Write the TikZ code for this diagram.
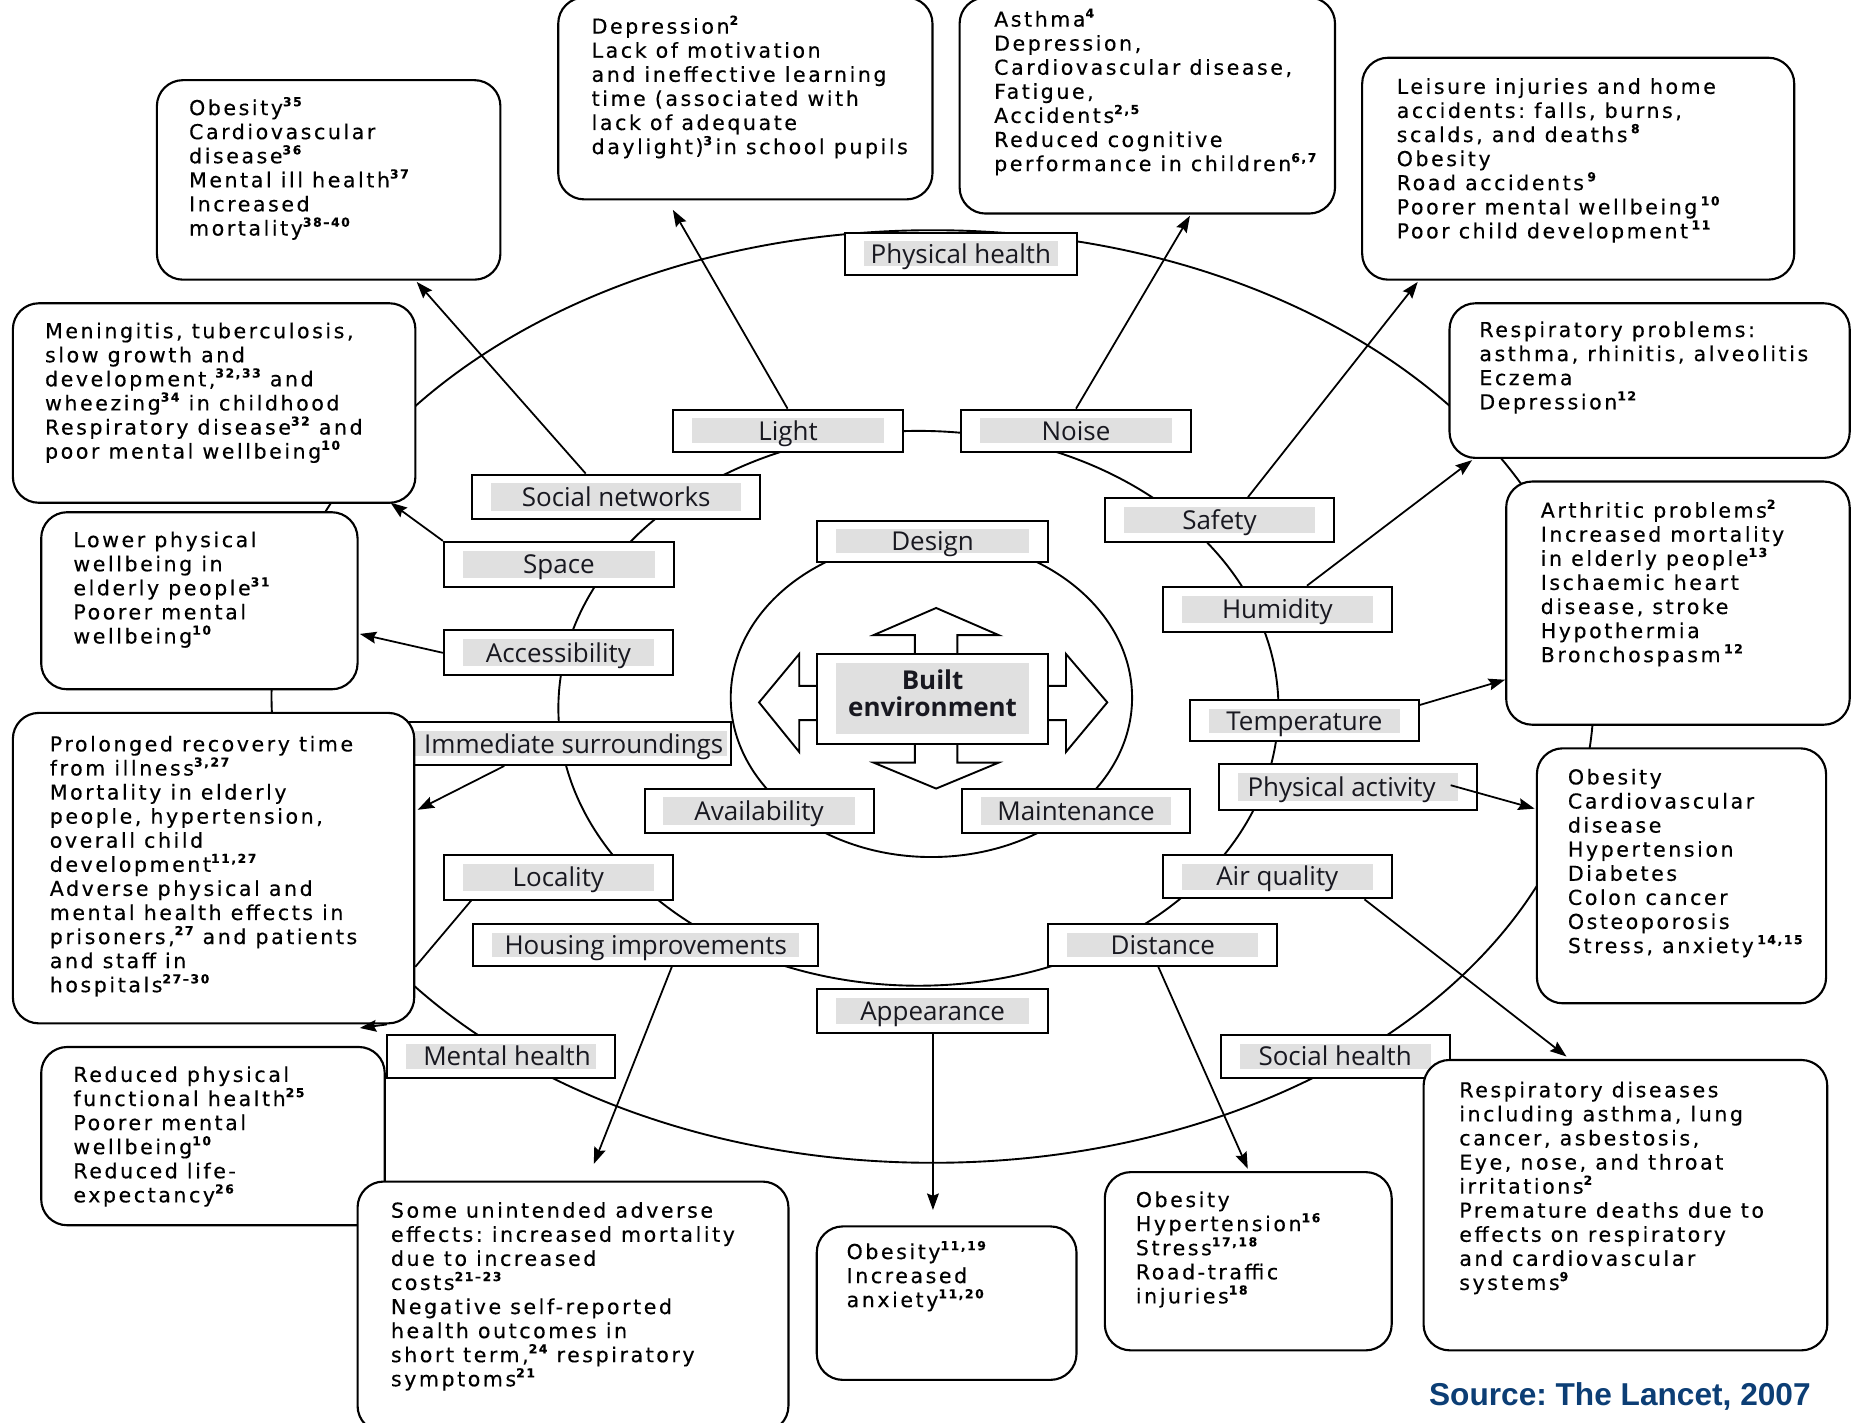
\documentclass[tikz,border=0pt]{standalone}
\usepackage{fontspec}
\setmainfont{DejaVu Sans}
\newfontfamily\boxfont[LetterSpace=12.5, FakeBold=0.35]{DejaVu Sans}
\newfontfamily\labfont{Open Sans}
\newfontfamily\srcfont{Liberation Sans}
\usetikzlibrary{arrows.meta}
\definecolor{bandgray}{RGB}{224,224,224}
\definecolor{labtext}{RGB}{24,24,32}
\definecolor{srcblue}{RGB}{12,62,117}
\newcommand\supref[1]{\raisebox{7.5pt}{\fontsize{10.5pt}{10.5pt}\selectfont\bfseries #1}}
\newcommand\bxstrut{\rule{0pt}{16pt}}
\frenchspacing
\begin{document}
\begin{tikzpicture}[x=1pt,y=-1pt,
  bandx/.initial=16, bandy/.initial=7.5,
  ring/.style={line width=1.6pt},
  obox/.style={draw, line width=1.8pt, rounded corners=22pt, fill=white, inner sep=0pt, anchor=north west},
  otext/.style={font=\boxfont\fontsize{17.4pt}{20.4pt}\selectfont, align=left, inner sep=0pt, anchor=north west},
  labframe/.style={draw, line width=1.7pt, fill=white, inner sep=0pt, minimum width=194pt, minimum height=37pt,
     font=\labfont\fontsize{22pt}{24pt}\selectfont, text=labtext,
     path picture={\fill[bandgray] ([xshift=\pgfkeysvalueof{/tikz/bandx}pt, yshift=-\pgfkeysvalueof{/tikz/bandy}pt]path picture bounding box.north west) rectangle ([xshift=-\pgfkeysvalueof{/tikz/bandx}pt, yshift=\pgfkeysvalueof{/tikz/bandy}pt]path picture bounding box.south east);}},
  lab/.style={labframe, text height=19pt, text depth=3pt},
  arr/.style={line width=1.5pt, -{Stealth[length=14pt, width=10pt, inset=2pt]}},
  conn/.style={line width=1.5pt},
  cross/.style={draw, line width=1.6pt, fill=white, line join=miter}
]
\useasboundingbox (0,0) rectangle (1568,1205);

% rings
\draw[ring] (790,590) ellipse [x radius=560pt, y radius=395pt];
\draw[ring] (778,600) ellipse [x radius=305pt, y radius=235pt];
\draw[ring] (789,591) ellipse [x radius=170pt, y radius=135pt];

% cross arrows around the centre
\draw[cross] (775,556) -- (775,538) -- (740,538) -- (793,515) -- (846,538) -- (811,538) -- (811,556);
\draw[cross] (775,628) -- (775,646) -- (740,646) -- (793,668) -- (846,646) -- (811,646) -- (811,628);
\draw[cross] (694,581) -- (677,581) -- (677,554) -- (643,595) -- (677,637) -- (677,610) -- (694,610);
\draw[cross] (886,581) -- (903,581) -- (903,554) -- (938,595) -- (903,637) -- (903,610) -- (886,610);

% label boxes
\node[lab, minimum width=196pt, minimum height=36pt] (physical) at (814,215) {Physical health};
\node[lab, minimum width=195pt, minimum height=36pt] (light) at (667.5,365) {Light};
\node[lab, minimum width=195pt, minimum height=36pt] (noise) at (911.5,365) {Noise};
\node[lab, minimum width=244pt, minimum height=38pt] (socnet) at (522,421) {Social networks};
\node[lab, minimum width=195pt, minimum height=38pt] (space) at (473.5,478) {Space};
\node[lab, minimum width=196pt, minimum height=35pt] (design) at (790,458.5) {Design};
\node[lab, minimum height=37pt] (safety) at (1033,440.5) {Safety};
\node[lab, minimum height=38pt] (humidity) at (1082,516) {Humidity};
\node[lab, minimum height=38pt] (access) at (473,553) {Accessibility};
\node[lab, minimum width=281pt, minimum height=36pt, bandx=3] (immed) at (478.5,630) {\hspace*{15pt}Immediate surroundings};
\node[lab, minimum height=35pt] (temp) at (1105,610.5) {Temperature};
\node[lab, minimum width=218pt, minimum height=39pt] (physact) at (1142,666.5) {Physical activity\hspace*{11pt}};
\node[lab, minimum height=38pt] (avail) at (643,687) {Availability};
\node[lab, minimum width=193pt, minimum height=38pt] (maint) at (911.5,687) {Maintenance};
\node[lab, minimum height=38pt] (locality) at (473,743) {Locality};
\node[lab, minimum height=37pt] (airq) at (1082,742.5) {Air quality};
\node[lab, minimum width=292pt, minimum height=35pt] (housing) at (547,800.5) {Housing improvements};
\node[lab, minimum height=35pt] (distance) at (985,800.5) {Distance};
\node[lab, minimum width=196pt, minimum height=37pt] (appear) at (790,856.5) {Appearance};
\node[lab, minimum width=193pt, minimum height=36pt] (mental) at (424.5,895) {\hspace*{10pt}Mental health};
\node[lab, minimum height=36pt] (social) at (1131,895) {Social health};
\node[labframe, minimum width=196pt, minimum height=76pt, bandy=8] (built) at (790,592) {};
\node[align=center, inner sep=0pt, text=labtext,
      font=\labfont\bfseries\fontsize{22pt}{23pt}\selectfont] (builttext) at (790,587) {Built\\environment};

% outcome boxes
\node[obox, minimum width=291pt, minimum height=169pt] (A) at (132,67) {};
\node[obox, minimum width=317pt, minimum height=171pt] (B) at (472,-3) {};
\node[obox, minimum width=318pt, minimum height=183pt] (C) at (812,-3) {};
\node[obox, minimum width=366pt, minimum height=188pt] (D) at (1153,48) {};
\node[obox, minimum width=339pt, minimum height=131pt] (E) at (1227,256) {};
\node[obox, minimum width=291pt, minimum height=206pt] (F) at (1275,407) {};
\node[obox, minimum width=245pt, minimum height=216pt] (G) at (1301,633) {};
\node[obox, minimum width=342pt, minimum height=246pt] (H) at (1205,897) {};
\node[obox, minimum width=243pt, minimum height=151pt] (I) at (935,992) {};
\node[obox, minimum width=220pt, minimum height=130pt] (J) at (691,1038) {};
\node[obox, minimum width=291pt, minimum height=151pt] (L) at (34,886) {};
\node[obox, minimum width=365pt, minimum height=212pt] (K) at (302,1000) {};
\node[obox, minimum width=340pt, minimum height=263pt] (M) at (10,603) {};
\node[obox, minimum width=268pt, minimum height=150pt] (N) at (34,433) {};
\node[obox, minimum width=341pt, minimum height=169pt] (O) at (10,256) {};

% outcome texts
\node[otext] (At) at (160,81.3) {\bxstrut Obesity\supref{35}\\Cardiovascular\\disease\supref{36}\\Mental ill health\supref{37}\\Increased\\mortality\supref{38–40}};
\node[otext] (Bt) at (501,12.3) {\bxstrut Depression\supref{2}\\Lack of motivation\\and ineffective learning\\time (associated with\\lack of adequate\\daylight)\supref{3}\,in school pupils};
\node[otext] (Ct) at (842,6.3) {\bxstrut Asthma\supref{4}\\Depression,\\Cardiovascular disease,\\Fatigue,\\Accidents\supref{2,5}\\Reduced cognitive\\performance in children\supref{6,7}};
\node[otext] (Dt) at (1183,63.3) {\bxstrut Leisure injuries and home\\accidents: falls, burns,\\scalds, and deaths\,\supref{8}\\Obesity\\Road accidents\,\supref{9}\\Poorer mental wellbeing\,\supref{10}\\Poor child development\,\supref{11}};
\node[otext] (Et) at (1253,269.3) {\bxstrut Respiratory problems:\\asthma, rhinitis, alveolitis\\Eczema\\Depression\supref{12}};
\node[otext] (Ft) at (1305,422.3) {\bxstrut Arthritic problems\supref{2}\\Increased mortality\\in elderly people\supref{13}\\Ischaemic heart\\disease, stroke\\Hypothermia\\Bronchospasm\,\supref{12}};
\node[otext] (Gt) at (1328,648.3) {\bxstrut Obesity\\Cardiovascular\\disease\\Hypertension\\Diabetes\\Colon cancer\\Osteoporosis\\Stress, anxiety\,\supref{14,15}};
\node[otext] (Ht) at (1236,913.3) {\bxstrut Respiratory diseases\\including asthma, lung\\cancer, asbestosis,\\Eye, nose, and throat\\irritations\supref{2}\\Premature deaths due to\\effects on respiratory\\and cardiovascular\\systems\supref{9}};
\node[otext] (It) at (962,1006.3) {\bxstrut Obesity\\Hypertension\supref{16}\\Stress\supref{17,18}\\Road-traffic\\injuries\supref{18}};
\node[otext] (Jt) at (717,1050.3) {\bxstrut Obesity\supref{11,19}\\Increased\\anxiety\supref{11,20}};
\node[otext] (Kt) at (331,1015.3) {\bxstrut Some unintended adverse\\effects: increased mortality\\due to increased\\costs\supref{21–23}\\Negative self-reported\\health outcomes in\\short term,\supref{24} respiratory\\symptoms\supref{21}};
\node[otext] (Lt) at (62,900.3) {\bxstrut Reduced physical\\functional health\supref{25}\\Poorer mental\\wellbeing\supref{10}\\Reduced life-\\expectancy\supref{26}};
\node[otext] (Mt) at (42,620.3) {\bxstrut Prolonged recovery time\\from illness\supref{3,27}\\Mortality in elderly\\people, hypertension,\\overall child\\development\supref{11,27}\\Adverse physical and\\mental health effects in\\prisoners,\supref{27} and patients\\and staff in\\hospitals\supref{27–30}};
\node[otext] (Nt) at (62,447.3) {\bxstrut Lower physical\\wellbeing in\\elderly people\supref{31}\\Poorer mental\\wellbeing\supref{10}};
\node[otext] (Ot) at (38,270.3) {\bxstrut Meningitis, tuberculosis,\\slow growth and\\development,\supref{32,33} and\\wheezing\supref{34} in childhood\\Respiratory disease\supref{32} and\\poor mental wellbeing\supref{10}};

% connectors
\draw[arr] ([xshift=97pt]socnet.north west) -- ([xshift=221pt,yshift=-1pt]A.south west);
\draw[arr] ([xshift=98pt]light.north west) -- ([xshift=98pt,yshift=-8pt]B.south west);
\draw[arr] (noise.north) -- ([xshift=196pt,yshift=-1pt]C.south west);
\draw[arr] ([xshift=122pt]safety.north west) -- ([xshift=48pt,yshift=-1pt]D.south west);
\draw[arr] ([xshift=123pt]humidity.north west) -- ([xshift=20pt,yshift=-1pt]E.south west);
\draw[arr] ([yshift=-5pt]temp.north east) -- ([yshift=39pt]F.south west);
\draw[arr] ([xshift=-23pt,yshift=-19pt]physact.north east) -- ([xshift=-1pt,yshift=-52pt]G.north west);
\draw[arr] ([xshift=-24pt]airq.south east) -- ([xshift=122pt,yshift=2pt]H.north west);
\draw[arr] ([xshift=94pt]distance.south west) -- ([xshift=122pt,yshift=2pt]I.north west);
\draw[arr] ([xshift=0.3pt]appear.south) -- ([xshift=99.3pt,yshift=13pt]J.north west);
\draw[arr] ([xshift=169pt]housing.south west) -- ([xshift=201pt,yshift=14pt]K.north west);
\draw[arr] ([xshift=90pt]immed.south west) -- ([xshift=2pt,yshift=-83pt]M.north east);
\draw[arr] (access.west) -- ([xshift=1pt,yshift=-104pt]N.north east);
\draw[arr] (space.north west) -- ([xshift=-22pt,yshift=1pt]O.south east);
\draw[conn] ([xshift=24pt]locality.south west) -- ([yshift=-216pt]M.north east);
\draw[arr] ([xshift=-24pt]M.south east) -- ([xshift=-47pt,yshift=-3pt]M.south east);

% source
\node[anchor=base east, inner sep=0pt, font=\srcfont\bfseries\fontsize{26.8pt}{30pt}\selectfont, text=srcblue] (src) at (1534,1191) {Source: The Lancet, 2007};
\end{tikzpicture}
\end{document}
